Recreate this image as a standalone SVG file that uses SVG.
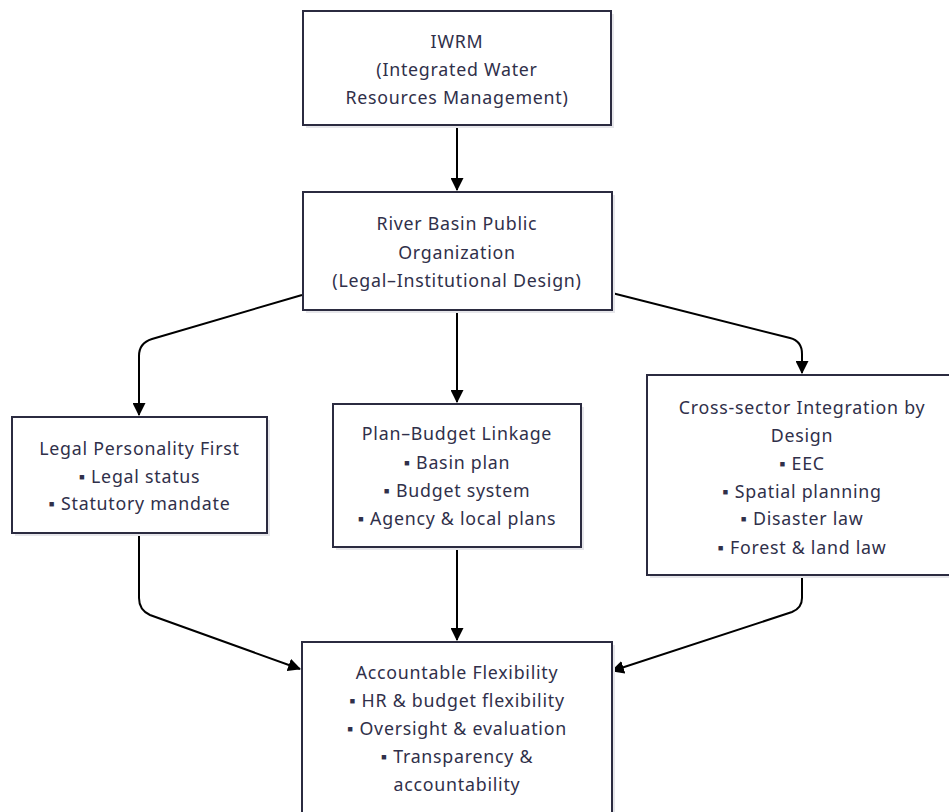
<svg xmlns="http://www.w3.org/2000/svg" width="949" height="812" viewBox="0 0 949 812">
<defs>
<marker id="ah" viewBox="0 0 12 12" refX="11" refY="6" markerWidth="13" markerHeight="13" markerUnits="userSpaceOnUse" orient="auto">
<path d="M0,0 L12,6 L0,12 z" fill="#000"/>
</marker>
</defs>
<style>
.box{fill:#fff;stroke:#2b2b40;stroke-width:2}
.sh{fill:#e6e6ea}
.t{font-family:"Noto Sans","Open Sans",sans-serif;font-size:17.8px;letter-spacing:0.75px;fill:#30304a;text-anchor:middle;dominant-baseline:central}
.c{fill:none;stroke:#000;stroke-width:2;marker-end:url(#ah)}
</style>
<rect width="949" height="812" fill="#fff"/>
<g id="connectors">
<path class="c" d="M457,126 L457,190"/>
<path class="c" d="M302,295 L152,339 Q139,343 139,356 L139,415"/>
<path class="c" d="M457,310 L457,402"/>
<path class="c" d="M612,293 L790,338 Q802,341 802,354 L802,373"/>
<path class="c" d="M139,533 L139,598 Q139,610 150,615 L300,669"/>
<path class="c" d="M457,547 L457,640"/>
<path class="c" d="M802,575 L802,598 Q802,608 792,612 L612,671"/>
</g>
<g id="iwrm">
<rect class="sh" x="306" y="14" width="308" height="114"/>
<rect class="box" x="303" y="11" width="308" height="114"/>
<text class="t" x="457" y="41">IWRM</text>
<text class="t" x="457" y="69">(Integrated Water</text>
<text class="t" x="457" y="97">Resources Management)</text>
</g>
<g id="river">
<rect class="sh" x="306" y="195" width="309" height="118"/>
<rect class="box" x="303" y="192" width="309" height="118"/>
<text class="t" x="457" y="223">River Basin Public</text>
<text class="t" x="457" y="252">Organization</text>
<text class="t" x="457" y="280">(Legal–Institutional Design)</text>
</g>
<g id="legal">
<rect class="sh" x="15" y="420" width="255" height="116"/>
<rect class="box" x="12" y="417" width="255" height="116"/>
<text class="t" x="139.5" y="448">Legal Personality First</text>
<text class="t" x="139.5" y="476">▪ Legal status</text>
<text class="t" x="139.5" y="503">▪ Statutory mandate</text>
</g>
<g id="plan">
<rect class="sh" x="336" y="407" width="248" height="143"/>
<rect class="box" x="333" y="404" width="248" height="143"/>
<text class="t" x="457" y="433">Plan–Budget Linkage</text>
<text class="t" x="457" y="462">▪ Basin plan</text>
<text class="t" x="457" y="490">▪ Budget system</text>
<text class="t" x="457" y="518">▪ Agency &amp; local plans</text>
</g>
<g id="cross">
<rect class="sh" x="650" y="378" width="310" height="200"/>
<rect class="box" x="647" y="375" width="310" height="200"/>
<text class="t" x="802" y="407">Cross-sector Integration by</text>
<text class="t" x="802" y="435">Design</text>
<text class="t" x="802" y="463">▪ EEC</text>
<text class="t" x="802" y="491">▪ Spatial planning</text>
<text class="t" x="802" y="518">▪ Disaster law</text>
<text class="t" x="802" y="547">▪ Forest &amp; land law</text>
</g>
<g id="account">
<rect class="sh" x="305" y="645" width="310" height="200"/>
<rect class="box" x="302" y="642" width="310" height="200"/>
<text class="t" x="457" y="672">Accountable Flexibility</text>
<text class="t" x="457" y="700">▪ HR &amp; budget flexibility</text>
<text class="t" x="457" y="728">▪ Oversight &amp; evaluation</text>
<text class="t" x="457" y="756">▪ Transparency &amp;</text>
<text class="t" x="457" y="784">accountability</text>
</g>
</svg>
